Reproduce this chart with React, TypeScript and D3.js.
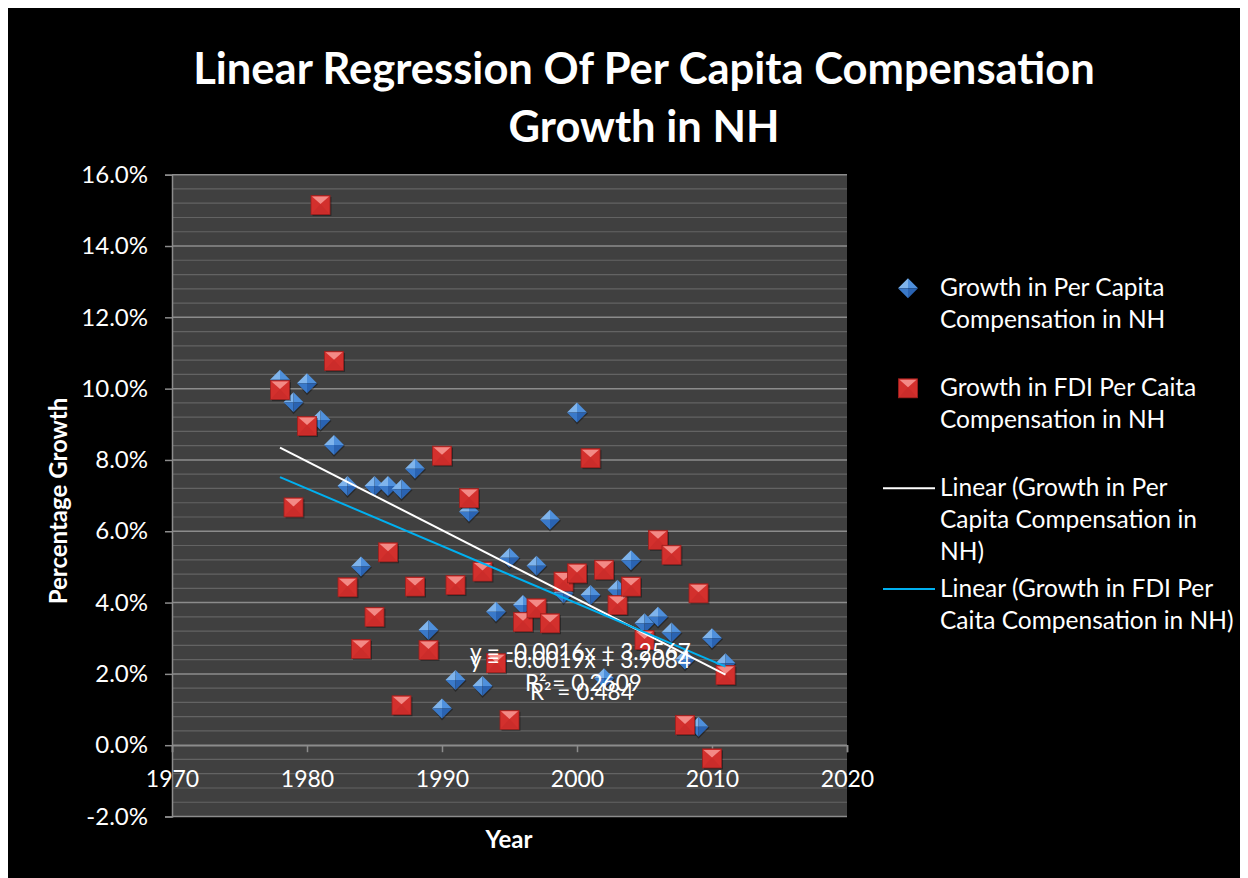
import { useEffect, useRef } from "react"
import * as d3 from "d3"

const YEARS = [
  1978, 1979, 1980, 1981, 1982, 1983, 1984, 1985, 1986, 1987, 1988, 1989,
  1990, 1991, 1992, 1993, 1994, 1995, 1996, 1997, 1998, 1999, 2000, 2001,
  2002, 2003, 2004, 2005, 2006, 2007, 2008, 2009, 2010, 2011,
]

// growth in per capita compensation, percent
const PER_CAPITA = [
  10.25, 9.62, 10.15, 9.12, 8.42, 7.27, 5.01, 7.27, 7.27, 7.18, 7.75, 3.23,
  1.03, 1.83, 6.55, 1.66, 3.74, 5.26, 3.93, 5.03, 6.32, 4.26, 9.33, 4.21,
  1.88, 4.36, 5.19, 3.42, 3.6, 3.16, 2.4, 0.52, 3.0, 2.3,
]

// growth in FDI per capita compensation, percent
const FDI = [
  9.96, 6.67, 8.95, 15.15, 10.78, 4.43, 2.7, 3.6, 5.41, 1.12, 4.45, 2.67,
  8.12, 4.49, 6.93, 4.87, 2.3, 0.71, 3.46, 3.84, 3.42, 4.59, 4.82, 8.05,
  4.92, 3.93, 4.45, 2.95, 5.76, 5.34, 0.57, 4.26, -0.37, 1.97,
]

const X_TICKS = [1970, 1980, 1990, 2000, 2010, 2020]
const Y_TICKS = [-2, 0, 2, 4, 6, 8, 10, 12, 14, 16]

const TITLE = ["Linear Regression Of Per Capita Compensation", "Growth in NH"]
const LEGEND = [
  { kind: "diamond", lines: ["Growth in Per Capita", "Compensation in NH"] },
  { kind: "square", lines: ["Growth in FDI Per Caita", "Compensation in NH"] },
  { kind: "white", lines: ["Linear (Growth in Per", "Capita Compensation in", "NH)"] },
  { kind: "cyan", lines: ["Linear (Growth in FDI Per", "Caita Compensation in NH)"] },
]
const EQUATIONS = [
  { text: "y = -0.0016x + 3.2567", dx: 0, dy: 0 },
  { text: "y = -0.0019x + 3.9084", dx: 0, dy: 8 },
  { text: "R² = 0.2609", dx: 55, dy: 31 },
  { text: "R² = 0.484", dx: 60, dy: 40 },
]

const W = 1240
const H = 870
const FONT = "Lato, 'Open Sans', sans-serif"

function fit(xs: number[], ys: number[]) {
  const mx = d3.mean(xs)!
  const my = d3.mean(ys)!
  let num = 0
  let den = 0
  xs.forEach((x, i) => {
    num += (x - mx) * (ys[i] - my)
    den += (x - mx) * (x - mx)
  })
  const slope = num / den
  return (x: number) => my + slope * (x - mx)
}

function diamond(g: any, cx: number, cy: number, r: number) {
  const m = g.append("g").attr("transform", `translate(${cx},${cy})`)
  m.append("path").attr("d", `M0,${-r + 1}L${r + 1},1L0,${r + 2}L${-r + 1},1Z`).attr("fill", "#000").attr("opacity", 0.35)
  m.append("path").attr("d", `M0,0L${-r},0L0,${-r}Z`).attr("fill", "#7fb4ec")
  m.append("path").attr("d", `M0,0L0,${-r}L${r},0Z`).attr("fill", "#4f90dc")
  m.append("path").attr("d", `M0,0L${-r},0L0,${r}Z`).attr("fill", "#3a79c9")
  m.append("path").attr("d", `M0,0L${r},0L0,${r}Z`).attr("fill", "#2a63b2")
}

function square(g: any, cx: number, cy: number, s: number) {
  const m = g.append("g").attr("transform", `translate(${cx},${cy})`)
  m.append("rect").attr("x", -s + 1.5).attr("y", -s + 1.5).attr("width", 2 * s).attr("height", 2 * s).attr("fill", "#000").attr("opacity", 0.35)
  m.append("rect").attr("x", -s).attr("y", -s).attr("width", 2 * s).attr("height", 2 * s).attr("fill", "#d3302d").attr("stroke", "#9e1f1d").attr("stroke-width", 0.8)
  m.append("path").attr("d", `M${-s + 1},${-s + 1}L${s - 1},${-s + 1}L0,${-s * 0.1}Z`).attr("fill", "#f38a86")
  m.append("path").attr("d", `M${-s + 1},${s - 1}L${s - 1},${s - 1}L0,${-s * 0.1}Z`).attr("fill", "#c72a28").attr("opacity", 0.6)
}

export default function App() {
  const svgRef = useRef<SVGSVGElement>(null)

  useEffect(() => {
    if (!svgRef.current) return
    const svg = d3.select(svgRef.current)
    svg.selectAll("*").remove()

    const x = d3.scaleLinear().domain([1970, 2020]).range([164, 839])
    const y = d3.scaleLinear().domain([-2, 16]).range([808.5, 166.7])

    svg.append("rect").attr("width", W).attr("height", H).attr("fill", "#000")

    // title
    TITLE.forEach((t, i) => {
      svg.append("text")
        .attr("x", 636).attr("y", 76 + i * 58)
        .attr("text-anchor", "middle")
        .attr("font-family", FONT).attr("font-weight", 700).attr("font-size", 43.5)
        .attr("fill", "#fff").text(t)
    })

    // plot area
    const [x0, x1] = x.range()
    svg.append("rect")
      .attr("x", x0).attr("y", y(16)).attr("width", x1 - x0).attr("height", y(-2) - y(16))
      .attr("fill", "#404040")

    const minor = d3.range(-2, 16.001, 0.4).filter((v) => Math.abs(v / 2 - Math.round(v / 2)) > 0.01)
    svg.append("g").selectAll("line").data(minor).join("line")
      .attr("x1", x0).attr("x2", x1).attr("y1", (d) => y(d)).attr("y2", (d) => y(d))
      .attr("stroke", "#636363").attr("stroke-width", 1.2)
    svg.append("g").selectAll("line").data(Y_TICKS).join("line")
      .attr("x1", x0).attr("x2", x1).attr("y1", (d) => y(d)).attr("y2", (d) => y(d))
      .attr("stroke", "#8c8c8c").attr("stroke-width", 1.5)

    // y axis
    const yAxis = svg.append("g").attr("transform", `translate(${x0},0)`)
      .call(d3.axisLeft(y).tickValues(Y_TICKS).tickSize(7).tickPadding(17).tickFormat((d) => `${(+d).toFixed(1)}%`))
    yAxis.select(".domain").attr("stroke", "#8c8c8c").attr("stroke-width", 1.5)
    yAxis.selectAll(".tick line").attr("stroke", "#8c8c8c").attr("stroke-width", 1.5)
    yAxis.selectAll("text").attr("fill", "#fff").attr("font-family", FONT).attr("font-size", 24)

    // x axis at zero
    const xAxis = svg.append("g").attr("transform", `translate(0,${y(0)})`)
      .call(d3.axisBottom(x).tickValues(X_TICKS).tickSize(7).tickPadding(18).tickFormat(d3.format("d")))
    xAxis.select(".domain").attr("stroke", "#8c8c8c").attr("stroke-width", 1.5)
    xAxis.selectAll(".tick line").attr("stroke", "#8c8c8c").attr("stroke-width", 1.5)
    xAxis.selectAll("text").attr("fill", "#fff").attr("font-family", FONT).attr("font-size", 23)

    // axis titles
    svg.append("text")
      .attr("transform", `translate(59,493) rotate(-90)`)
      .attr("text-anchor", "middle")
      .attr("font-family", FONT).attr("font-weight", 700).attr("font-size", 24)
      .attr("fill", "#fff").text("Percentage Growth")
    svg.append("text")
      .attr("x", 501).attr("y", 840)
      .attr("text-anchor", "middle")
      .attr("font-family", FONT).attr("font-weight", 700).attr("font-size", 24)
      .attr("fill", "#fff").text("Year")

    // markers
    const marks = svg.append("g")
    YEARS.forEach((yr, i) => diamond(marks, x(yr), y(PER_CAPITA[i]), 10))
    YEARS.forEach((yr, i) => square(marks, x(yr), y(FDI[i]), 9.5))

    // trend lines
    const xs = [YEARS[0], YEARS[YEARS.length - 1]]
    const trends = [
      { f: fit(YEARS, PER_CAPITA), color: "#ffffff" },
      { f: fit(YEARS, FDI), color: "#00b0f0" },
    ]
    trends.forEach((t) => {
      svg.append("path")
        .attr("d", d3.line<number>().x((d) => x(d)).y((d) => y(t.f(d)))(xs))
        .attr("stroke", t.color).attr("stroke-width", 2).attr("fill", "none")
    })

    // trend equations
    EQUATIONS.forEach((e) => {
      svg.append("text")
        .attr("x", 462 + e.dx).attr("y", 652 + e.dy)
        .attr("font-family", FONT).attr("font-size", 22.5)
        .attr("fill", "#fff").text(e.text)
    })

    // legend
    const lg = svg.append("g").attr("font-family", FONT).attr("font-size", 24.5).attr("fill", "#fff")
    const legendTop = [288, 388, 488, 588.7]
    LEGEND.forEach((item, i) => {
      const base = legendTop[i]
      const cy = base - 7.7
      if (item.kind === "diamond") diamond(lg, 900, cy, 10)
      else if (item.kind === "square") square(lg, 900, cy, 9.5)
      else {
        lg.append("line").attr("x1", 875).attr("x2", 927).attr("y1", cy).attr("y2", cy)
          .attr("stroke", item.kind === "white" ? "#fff" : "#00b0f0").attr("stroke-width", 2)
      }
      item.lines.forEach((l, j) => {
        lg.append("text").attr("x", 932).attr("y", base + j * 32.2).text(l)
      })
    })
  }, [])

  return <svg ref={svgRef} width={W} height={H} style={{ display: "block" }} />
}
